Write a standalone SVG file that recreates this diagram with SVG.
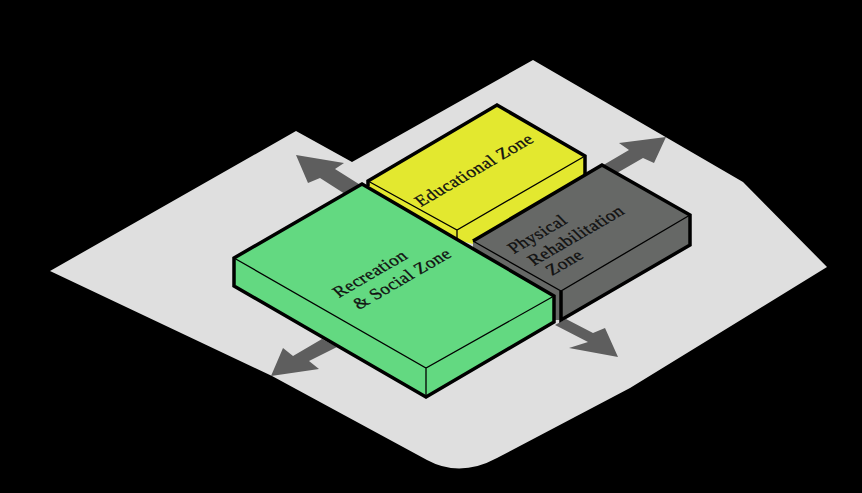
<svg xmlns="http://www.w3.org/2000/svg" width="862" height="493" viewBox="0 0 862 493">
<style>
.e{fill:none;stroke:#000;stroke-width:3.5;stroke-linejoin:miter}
.t{fill:none;stroke:#000;stroke-width:1.3}
.a{fill:#5e5e5e}
text{font-family:"Liberation Serif",serif;font-size:17.5px;fill:#111;letter-spacing:.5px;stroke:#111;stroke-width:.35px}
</style>
<rect width="862" height="493" fill="#000"/>
<g id="site"><path d="M50 271L296 131L352 162L533 60L743 182L827 267L630 388L497 458Q460 478 427 460L272 376Z" fill="#dfdfdf"/></g>
<g id="connectors">
<path class="a" d="M296 155L344 163L335 169L362 186L345 194L320 178L308 183Z"/>
<path class="a" d="M666 137L619 143L629 150L600 167L617 173L643 158L654 163Z"/>
<path class="a" d="M618 357L569 348L588 342L555 325L566 319L593 333L605 328Z"/>
<path class="a" d="M271 376L319 369L309 361L337 347L322 339L293 356L283 348Z"/>
</g>
<g id="educational-zone">
<path d="M368 181L497 105L585 156V180L473 244L457 240L368 186Z" fill="#e3e82f"/>
<path class="e" d="M368 186V181L497 105L585 156V180"/>
<path class="t" d="M368 181L457 230L585 156M457 230V240"/>
<text transform="matrix(.866 -.5 .7 .72 421 207)">Educational Zone</text>
</g>
<g id="physical-rehabilitation-zone">
<path d="M473 241L602 165L690 215V245L561 320H552V296L473 248Z" fill="#666866"/>
<path class="e" d="M473 241L602 165L690 215V245L561 320V291"/>
<path class="t" d="M473 241L561 291L690 215"/>
<text transform="matrix(.866 -.5 .7 .72 514 254)">Physical</text>
<text transform="matrix(.866 -.5 .7 .72 534 266)">Rehabilitation</text>
<text transform="matrix(.866 -.5 .7 .72 552 276)">Zone</text>
</g>
<g id="recreation-social-zone">
<path class="e" style="fill:#63d981" d="M234 258L362 184L554 296V322L426 397L234 286Z"/>
<path class="t" d="M234 258L426 368L554 296M426 368V397"/>
<text transform="matrix(.866 -.5 .7 .72 339 298)">Recreation</text>
<text transform="matrix(.866 -.5 .7 .72 359 310)">&amp; Social Zone</text>
</g>
</svg>
